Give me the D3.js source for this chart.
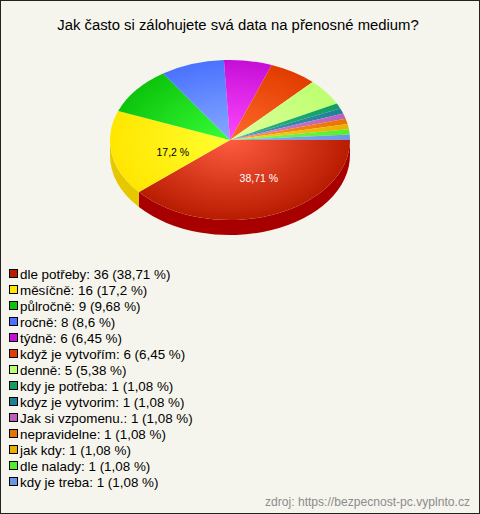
<!DOCTYPE html>
<html><head><meta charset="utf-8">
<script src="https://cdn.jsdelivr.net/npm/d3@7"></script>
<style>html,body{margin:0;padding:0;background:#f5f5ed}svg{display:block}text{font-family:"Liberation Sans",Arial,sans-serif}</style>
</head><body><svg id="c" width="480" height="514"></svg>
<script>
const titleText = "Jak často si zálohujete svá data na přenosné medium?";
const sourceText = "zdroj: https://bezpecnost-pc.vyplnto.cz";
const categories = ["dle potřeby","měsíčně","půlročně","ročně","týdně","když je vytvořím","denně","kdy je potřeba","kdyz je vytvorim","Jak si vzpomenu.","nepravidelne","jak kdy","dle nalady","kdy je treba"];
const counts = [36,16,9,8,6,6,5,1,1,1,1,1,1,1];
const percents = ["38,71","17,2","9,68","8,6","6,45","6,45","5,38","1,08","1,08","1,08","1,08","1,08","1,08","1,08"];
const edgeColors = ["#b81c00","#ffe600","#0cc40c","#4a72ff","#c60fd6","#e23c00","#bcff70","#0f9f62","#1f7f98","#bb5fbb","#e87400","#e8b000","#55ee2a","#6c96e6"];
const centerColors = ["#ff5c40","#ffff30","#38ff38","#88aaff","#ff48ff","#ff6a2c","#e0ff9c","#2cb87c","#3a9cb4","#d884d8","#ff9a20","#ffd030","#80ff50","#90b0f0"];
const wallColors = ["#a80000","#e6c800"];

const W = 480, H = 514, cx = 230, cy = 140, rx = 120, ry = 80, depth = 15;
const svg = d3.select("#c");
svg.append("rect").attr("x",.5).attr("y",.5).attr("width",W-1).attr("height",H-1).attr("fill","#f5f5ed").attr("stroke","#222");

svg.append("text").attr("x",238).attr("y",30).attr("text-anchor","middle").attr("font-size",14.85).attr("fill","#000").text(titleText);

const slices = d3.pie().sort(null).startAngle(Math.PI/2).endAngle(Math.PI*2.5)(counts);
const px = a => cx + rx*Math.sin(a), py = a => cy - ry*Math.cos(a);

const defs = svg.append("defs");
categories.forEach((c,i)=>{
  const g = defs.append("radialGradient").attr("id","g"+i).attr("gradientUnits","userSpaceOnUse").attr("cx",0).attr("cy",0).attr("r",rx);
  g.append("stop").attr("offset",0).attr("stop-color",centerColors[i]);
  g.append("stop").attr("offset",1).attr("stop-color",edgeColors[i]);
});

const frontEnd = Math.PI*1.5;
slices.slice(0,2).forEach((s,i)=>{
  const a0 = s.startAngle, a1 = Math.min(s.endAngle, frontEnd);
  const d = `M${px(a0)},${py(a0)}A${rx},${ry} 0 0 1 ${px(a1)},${py(a1)}L${px(a1)},${py(a1)+depth}A${rx},${ry} 0 0 0 ${px(a0)},${py(a0)+depth}Z`;
  svg.append("path").attr("d",d).attr("fill",wallColors[i]);
});

const arc = d3.arc().innerRadius(0).outerRadius(rx);
const pieTop = svg.append("g").attr("transform",`translate(${cx},${cy}) scale(1,${ry/rx})`);
pieTop.selectAll("path").data(slices).join("path").attr("d",arc).attr("fill",(d,i)=>`url(#g${i})`);

const labelColors = ["#fff","#000"];
const labelNudgeX = [8,2], labelNudgeY = [0,5];
[0,1].forEach(i=>{
  const s = slices[i], m = (s.startAngle+s.endAngle)/2, f = 0.5;
  svg.append("text").attr("x",cx+rx*f*Math.sin(m)+labelNudgeX[i]).attr("y",cy-ry*f*Math.cos(m)+4+labelNudgeY[i]).attr("text-anchor","middle")
    .attr("font-size",10.5).attr("fill",labelColors[i]).text(percents[i]+" %");
});

const ly = d3.scalePoint().domain(d3.range(categories.length)).range([274,482]);
const leg = svg.append("g").selectAll("g").data(categories).join("g").attr("transform",(d,i)=>`translate(0,${ly(i)})`);
leg.append("rect").attr("x",9.5).attr("y",-4.5).attr("width",8).attr("height",8).attr("fill",(d,i)=>edgeColors[i]).attr("stroke","#000");
leg.append("text").attr("x",20).attr("y",5).attr("font-size",13.4).attr("fill","#000").text((d,i)=>`${d}: ${counts[i]} (${percents[i]} %)`);

svg.append("text").attr("x",470).attr("y",506).attr("text-anchor","end").attr("font-size",12.1).attr("fill","#8c8c8c").text(sourceText);
</script></body></html>
